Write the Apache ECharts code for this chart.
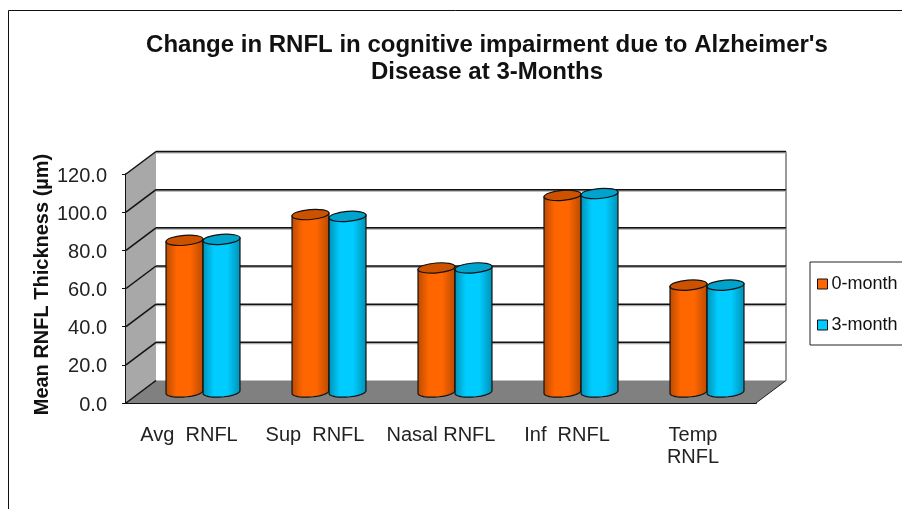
<!DOCTYPE html>
<html>
<head>
<meta charset="utf-8">
<style>
  html, body { margin: 0; padding: 0; background: #fff; }
  #chart { width: 902px; height: 509px; }
</style>
<script src="https://cdn.jsdelivr.net/npm/echarts@6/dist/echarts.min.js"></script>
</head>
<body>
<div id="chart"></div>
<script>
const categories = ["Avg  RNFL", "Sup  RNFL", "Nasal RNFL", "Inf  RNFL", "Temp\nRNFL"];
const month0 = [79.5, 93, 65, 103, 56];
const month3 = [80, 92, 65, 104, 56];
const yTicks = [0, 20, 40, 60, 80, 100, 120];

const FONT = '"Liberation Sans", Arial, sans-serif';
// depth of the fake 3d box
const DX = 30, DY = 22.5;
const TILT = 0.08;

function wallsItem(params, api) {
  const c = params.coordSys;
  const y0 = api.coord([0, 0])[1];
  const yTop = api.coord([0, 120])[1];
  const x0 = c.x, x1 = c.x + c.width;
  return {
    type: "group",
    children: [
      { type: "polygon", shape: { points: [[x0, yTop], [x0 + DX, yTop - DY], [x0 + DX, y0 - DY], [x0, y0]] },
        style: { fill: "#a8a8a8" } },
      { type: "polygon", shape: { points: [[x0, y0], [x0 + DX, y0 - DY], [x1 + DX, y0 - DY], [x1, y0]] },
        style: { fill: "#808080" } },
      { type: "line", shape: { x1: x1 + DX, y1: yTop - DY, x2: x1 + DX, y2: y0 - DY },
        style: { stroke: "#999", lineWidth: 2 } },
      { type: "line", shape: { x1: x1, y1: y0, x2: x1 + DX, y2: y0 - DY },
        style: { stroke: "#222", lineWidth: 1 } }
    ]
  };
}

function gridItem(params, api) {
  const c = params.coordSys;
  const v = api.value(1);
  const y = api.coord([0, v])[1];
  const x0 = c.x, x1 = c.x + c.width;
  const children = [
    { type: "line", shape: { x1: x0, y1: y, x2: x0 + DX, y2: y - DY },
      style: { stroke: "#111", lineWidth: 1.5 } }
  ];
  if (v > 0) {
    children.push({ type: "line", shape: { x1: x0 + DX, y1: y - DY + 1, x2: x1 + DX, y2: y - DY + 1 },
      style: { stroke: "#aaa", lineWidth: 2 } });
    children.push({ type: "line", shape: { x1: x0 + DX, y1: y - DY, x2: x1 + DX, y2: y - DY },
      style: { stroke: "#111", lineWidth: 1.5 } });
  }
  return { type: "group", children: children };
}

function cylinder(side, colors) {
  return function (params, api) {
    const band = api.size([1, 0])[0];
    const p = api.coord([api.value(0), api.value(1)]);
    const base = api.coord([api.value(0), 0]);
    const rx = band * 0.147, ry = 5;
    const cx = p[0] + DX / 2 - 1 + side * rx;
    const topY = p[1] - 11;
    const baseY = base[1] - 11;
    const cos = Math.cos(TILT), sin = Math.sin(TILT);
    const pts = [[cx - rx * cos, topY + rx * sin], [cx - rx * cos, baseY + rx * sin]];
    for (let i = 1; i < 24; i++) {
      const a = Math.PI - (Math.PI * i) / 24;
      const ex = rx * Math.cos(a), ey = ry * Math.sin(a);
      pts.push([cx + ex * cos + ey * sin, baseY - ex * sin + ey * cos]);
    }
    pts.push([cx + rx * cos, baseY - rx * sin], [cx + rx * cos, topY - rx * sin]);
    return {
      type: "group",
      children: [
        { type: "polygon", shape: { points: pts },
          style: {
            fill: new echarts.graphic.LinearGradient(0, 0, 1, 0, [
              { offset: 0, color: colors.edge },
              { offset: 0.3, color: colors.main },
              { offset: 0.65, color: colors.main },
              { offset: 1, color: colors.edge }
            ]),
            stroke: "#111", lineWidth: 1.2
          } },
        { type: "ellipse", x: cx, y: topY, rotation: TILT,
          shape: { cx: 0, cy: 0, rx: rx, ry: ry },
          style: { fill: colors.top, stroke: "#111", lineWidth: 1.2 } }
      ]
    };
  };
}

const orange = { main: "#ff6600", edge: "#b84a00", top: "#cc5200" };
const blue = { main: "#00ccff", edge: "#0090b4", top: "#00a3cc" };

const chart = echarts.init(document.getElementById("chart"));
chart.setOption({
  animation: false,
  backgroundColor: "#fff",
  title: {
    text: "Change in RNFL in cognitive impairment due to Alzheimer's\nDisease at 3-Months",
    left: 482, top: 27, textAlign: "center",
    textStyle: { fontFamily: FONT, fontSize: 24, fontWeight: "bold", color: "#111", lineHeight: 27 }
  },
  legend: {
    orient: "vertical", left: 810, top: 262,
    padding: [13, 12, 11, 7],
    itemWidth: 10, itemHeight: 10, itemGap: 23,
    icon: "rect",
    borderColor: "#222", borderWidth: 1,
    textStyle: { fontFamily: FONT, fontSize: 18, color: "#111", padding: [0, 0, 0, -1] },
    data: [
      { name: "0-month", itemStyle: { color: "#ff6600", borderColor: "#111", borderWidth: 1 } },
      { name: "3-month", itemStyle: { color: "#00ccff", borderColor: "#111", borderWidth: 1 } }
    ]
  },
  grid: { left: 126, right: 146, top: 174, bottom: 106 },
  xAxis: {
    type: "category",
    data: categories,
    axisLine: { lineStyle: { color: "#111", width: 2 } },
    axisTick: { length: 7, lineStyle: { color: "#333", width: 1 } },
    axisLabel: { fontFamily: FONT, fontSize: 20, color: "#222", margin: 21, lineHeight: 22, interval: 0 }
  },
  yAxis: {
    type: "value", min: 0, max: 120, interval: 20,
    name: "Mean RNFL Thickness (µm)",
    nameLocation: "middle", nameRotate: 90, nameGap: 74, nameMoveOverlap: false,
    nameTextStyle: { fontFamily: FONT, fontSize: 20, fontWeight: "bold", color: "#111", padding: [0, 0, 0, 8] },
    axisLine: { show: true, lineStyle: { color: "#111", width: 2 } },
    axisTick: { show: true, length: 4, lineStyle: { color: "#111", width: 1 } },
    splitLine: { show: false },
    axisLabel: { fontFamily: FONT, fontSize: 20, color: "#222", margin: 19,
      verticalAlign: "top", lineHeight: 4,
      formatter: v => v.toFixed(1) }
  },
  graphic: [
    { type: "polyline", silent: true, shape: { points: [[8.5, 509], [8.5, 10.5], [902, 10.5]] },
      style: { stroke: "#111", lineWidth: 1, fill: null } }
  ],
  series: [
    { type: "custom", silent: true, z: 1, data: [[0, 0]], encode: { x: 0, y: 1 }, renderItem: wallsItem },
    { type: "custom", silent: true, z: 1, data: yTicks.map(v => [0, v]), encode: { x: 0, y: 1 }, renderItem: gridItem },
    { name: "0-month", type: "custom", z: 2, itemStyle: { color: "#ff6600" },
      data: month0.map((v, i) => [i, v]), encode: { x: 0, y: 1 }, renderItem: cylinder(-1, orange) },
    { name: "3-month", type: "custom", z: 3, itemStyle: { color: "#00ccff" },
      data: month3.map((v, i) => [i, v]), encode: { x: 0, y: 1 }, renderItem: cylinder(1, blue) }
  ]
});
</script>
</body>
</html>
